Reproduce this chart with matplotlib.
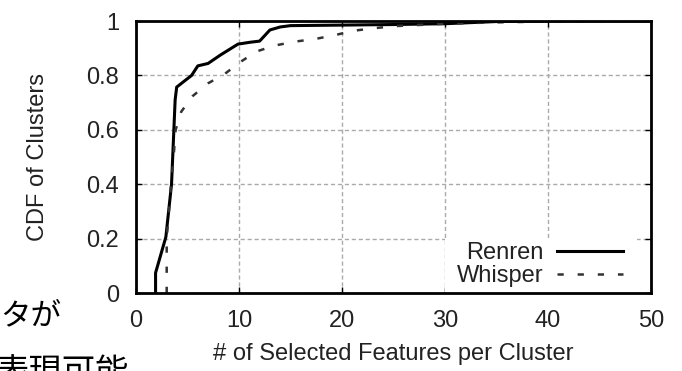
import matplotlib
matplotlib.use("Agg")
import matplotlib.pyplot as plt
from matplotlib.patches import Rectangle

# values
renren_x = [1.9, 1.9, 2.9, 3.45, 3.8, 3.95, 5.4, 6.0, 7.0, 8.2, 9.9, 11.1, 12.0,
            13.0, 14.0, 15.0, 20, 25, 30, 35, 40, 50]
renren_y = [0.0, 0.074, 0.206, 0.40, 0.71, 0.757, 0.80, 0.835, 0.844, 0.875, 0.915,
            0.922, 0.926, 0.967, 0.978, 0.983, 0.985, 0.987, 0.99, 0.998, 1.0, 1.0]

whisper_x = [2.98, 2.98, 3.3, 3.65, 3.85, 4.4, 5.5, 7.0, 8.6, 10.2, 11.7, 13.5, 15.4,
             17.4, 19.3, 21.1, 23.0, 25.0, 30, 35, 40, 50]
whisper_y = [0.0, 0.2, 0.35, 0.5, 0.6, 0.667, 0.724, 0.771, 0.805, 0.851, 0.888, 0.91,
             0.924, 0.934, 0.948, 0.964, 0.973, 0.981, 0.99, 0.995, 0.998, 1.0]

x_ticks = [0, 10, 20, 30, 40, 50]
y_ticks = [0, 0.2, 0.4, 0.6, 0.8, 1.0]
y_tick_labels = ["0", "0.2", "0.4", "0.6", "0.8", "1"]

plt.rcParams['font.family'] = ['Liberation Sans', 'DejaVu Sans']
plt.rcParams['lines.scale_dashes'] = False

W, H = 682, 371
fig = plt.figure(figsize=(W / 100, H / 100), dpi=100)
ax = fig.add_axes([136 / W, 1 - 293 / H, 515 / W, 272 / H])

ax.plot(renren_x, renren_y, color='black', linewidth=2.2, label='Renren', zorder=3)
ax.plot(whisper_x, whisper_y, color='#333333', linewidth=1.8, dashes=(4.5, 10),
        label='Whisper', zorder=3)

ax.set_xlim(0, 50)
ax.set_ylim(0, 1)
ax.set_xticks(x_ticks)
ax.set_yticks(y_ticks)
ax.set_yticklabels(y_tick_labels)
ax.tick_params(direction='in', length=4, width=1, top=True, right=True,
               labelsize=17, labelcolor='#222222', pad=12)
ax.grid(True, color='#aaaaaa', linewidth=1, dashes=(3, 2))
ax.set_axisbelow(True)
for sp in ax.spines.values():
    sp.set_linewidth(2)
    sp.set_zorder(4)

ax.set_xlabel('# of Selected Features per Cluster', fontsize=17, color='#222222', labelpad=8)
ax.set_ylabel('CDF of Clusters', fontsize=17, color='#222222', labelpad=27)

# opaque key box (gnuplot style) hiding the grid behind the legend
ax.add_patch(Rectangle((309 / 515, 0), 192 / 515, 55 / 272, transform=ax.transAxes,
                       facecolor='white', edgecolor='none', zorder=1))

leg = ax.legend(loc='lower right', bbox_to_anchor=(0.958, 0.0), markerfirst=False,
                fontsize=17, handlelength=2.8, handletextpad=0.6, labelspacing=0.05,
                borderpad=0.25, borderaxespad=0.0, frameon=False)
for t in leg.get_texts():
    t.set_color('#222222')
    t.set_ha('right')

# Japanese slide text cut off at the left edge
jp = ['Noto Sans CJK JP', 'DejaVu Sans']
fig.text(0 / W, 1 - 300 / H, 'タが', fontsize=22, family=jp, va='top', ha='left')
fig.text(-5 / W, 1 - 355 / H, '表現可能', fontsize=24, family=jp, va='top', ha='left')

fig.savefig('out.png', dpi=100)
